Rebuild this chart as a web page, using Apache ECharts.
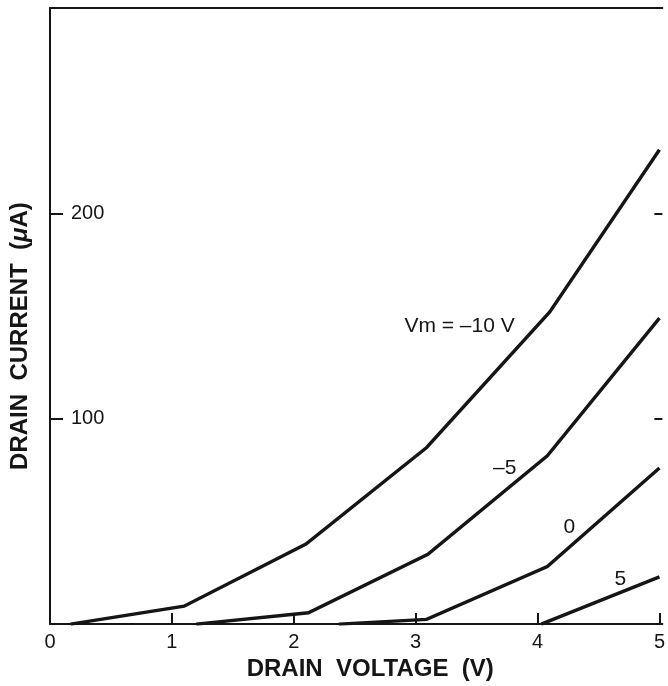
<!DOCTYPE html>
<html>
<head>
<meta charset="utf-8">
<script src="https://cdn.jsdelivr.net/npm/echarts@6/dist/echarts.min.js"></script>
<style>
  html, body { margin: 0; padding: 0; background: #ffffff; }
  #chart { width: 668px; height: 686px; }
</style>
</head>
<body>
<div id="chart"></div>
<script>
// Drain current versus drain voltage, one curve per gate voltage Vm
const gateVoltages = ['-10', '-5', '0', '5'];

// [drain voltage (V), drain current (µA)] break points of each curve
const curveVmMinus10 = [[0.17, 0], [1.10, 8.7], [2.10, 39], [3.09, 86], [4.10, 152], [5.0, 231]];
const curveVmMinus5  = [[1.20, 0], [2.12, 5.5], [3.10, 34], [4.08, 82], [5.0, 149]];
const curveVm0       = [[2.37, 0], [3.09, 2.3], [4.08, 28], [5.0, 76]];
const curveVm5       = [[4.03, 0], [5.0, 23]];

const xTickValues = [0, 1, 2, 3, 4, 5];
const yTickValues = [100, 200];

const curveLabelTexts = ['Vm = \u201310 V', '\u20135', '0', '5'];
const curveLabelAnchors = [[3.36, 145], [3.73, 76], [4.26, 47], [4.68, 22]];

const INK = '#151515';
const FONT = '"Liberation Sans", Arial, Helvetica, sans-serif';

const curves = [curveVmMinus10, curveVmMinus5, curveVm0, curveVm5];

const lineSeries = curves.map((pts, i) => ({
  name: 'Vm ' + gateVoltages[i],
  type: 'line',
  data: pts,
  symbol: 'none',
  silent: true,
  lineStyle: { color: INK, width: 3.4, join: 'miter' },
  z: 3
}));

const labelSeries = curveLabelAnchors.map((anchor, i) => ({
  type: 'scatter',
  data: [anchor],
  symbolSize: 0,
  silent: true,
  itemStyle: { opacity: 1 },
  label: {
    show: true,
    position: 'inside',
    formatter: curveLabelTexts[i],
    color: INK,
    opacity: 1,
    fontFamily: FONT,
    fontSize: 21
  },
  z: 4
}));

const chart = echarts.init(document.getElementById('chart'), null, { renderer: 'canvas' });

chart.setOption({
  animation: false,
  backgroundColor: '#ffffff',
  grid: { left: 48, right: 0, top: 8, bottom: 58, containLabel: false },
  xAxis: [
    {
      type: 'value',
      position: 'bottom',
      min: 0,
      max: 5.024,
      interval: 1,
      axisLine: { show: true, onZero: false, lineStyle: { color: INK, width: 2 } },
      axisTick: { show: true, inside: true, length: 11, lineStyle: { color: INK, width: 2 } },
      splitLine: { show: false },
      axisLabel: {
        show: true,
        margin: 8,
        color: INK,
        fontFamily: FONT,
        fontSize: 20,
        showMaxLabel: false,
        formatter: v => (xTickValues.includes(v) ? String(v) : '')
      },
      name: 'DRAIN  VOLTAGE  (V)',
      nameLocation: 'middle',
      nameGap: 32,
      nameTextStyle: {
        color: INK, fontFamily: FONT, fontWeight: 'bold', fontSize: 24,
        padding: [0, 0, 0, 28]
      }
    },
    {
      type: 'value',
      position: 'top',
      min: 0,
      max: 5.024,
      axisLine: { show: true, onZero: false, lineStyle: { color: INK, width: 2 } },
      axisTick: { show: false },
      axisLabel: { show: false },
      splitLine: { show: false }
    }
  ],
  yAxis: [
    {
      type: 'value',
      position: 'left',
      min: 0,
      max: 300,
      interval: 100,
      axisLine: { show: true, onZero: false, lineStyle: { color: INK, width: 2 } },
      axisTick: { show: true, inside: true, length: 13, lineStyle: { color: INK, width: 2 } },
      splitLine: { show: false },
      axisLabel: {
        show: true,
        inside: true,
        margin: 21,
        color: INK,
        fontFamily: FONT,
        fontSize: 20,
        formatter: v => (yTickValues.includes(v) ? String(v) : '')
      },
      name: 'DRAIN  CURRENT  ({mu|\u03bc}A)',
      nameLocation: 'middle',
      nameGap: 18,
      nameTextStyle: {
        color: INK, fontFamily: FONT, fontWeight: 'bold', fontSize: 24,
        padding: [0, 40, 0, 0],
        rich: { mu: { color: INK, fontFamily: FONT, fontWeight: 'bold', fontStyle: 'italic', fontSize: 24 } }
      }
    },
    {
      type: 'value',
      position: 'right',
      min: 0,
      max: 300,
      interval: 100,
      axisLine: { show: false, onZero: false },
      axisTick: { show: true, inside: true, length: 8, lineStyle: { color: INK, width: 2 } },
      axisLabel: { show: false },
      splitLine: { show: false }
    }
  ],
  series: [...lineSeries, ...labelSeries]
});
</script>
</body>
</html>
